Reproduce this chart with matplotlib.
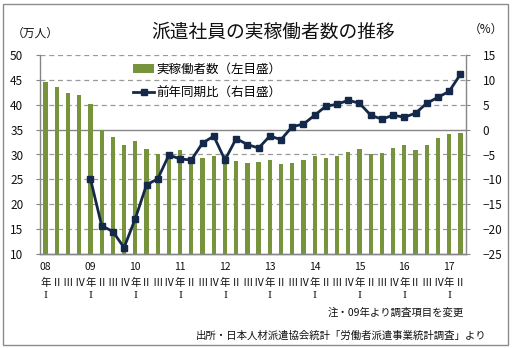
import matplotlib
matplotlib.use("Agg")
import matplotlib.pyplot as plt
from matplotlib.patches import Rectangle
from matplotlib.lines import Line2D
from matplotlib.patches import Patch
import numpy as np

plt.rcParams['font.family'] = ['Noto Sans CJK JP', 'DejaVu Sans']

# ---- data ----
years = ["08", "09", "10", "11", "12", "13", "14", "15", "16", "17"]
quarters = ["Ⅰ", "Ⅱ", "Ⅲ", "Ⅳ"]
workers = [44.5, 43.5, 42.3, 41.9, 40.1, 34.9, 33.5, 31.9, 32.7, 31.1,
           30.0, 29.8, 30.9, 28.9, 29.2, 29.6, 29.9, 28.7, 28.2, 28.5,
           28.9, 28.0, 28.2, 28.9, 29.7, 29.3, 29.7, 30.5, 31.1, 30.1,
           30.3, 31.3, 31.9, 30.9, 31.9, 33.3, 34.1, 34.3]
yoy = [np.nan, np.nan, np.nan, np.nan, -9.9, -19.3, -20.5, -23.7, -17.9, -11.1,
       -9.9, -5.1, -5.9, -6.1, -2.7, -1.3, -6.1, -1.8, -3.0, -3.7,
       -1.3, -2.0, 0.6, 1.1, 2.9, 4.7, 5.1, 5.9, 5.3, 2.9,
       2.1, 2.9, 2.5, 3.3, 5.3, 6.5, 7.7, 11.1]
left_ticks = [10, 15, 20, 25, 30, 35, 40, 45, 50]
right_ticks = [-25, -20, -15, -10, -5, 0, 5, 10, 15]
title = "派遣社員の実稼働者数の推移"
bar_label = "実稼働者数（左目盛）"
line_label = "前年同期比（右目盛）"
note = "注・09年より調査項目を変更"
source = "出所・日本人材派遣協会統計「労働者派遣事業統計調査」より"

W, H = 516, 348
fig = plt.figure(figsize=(W / 100, H / 100), dpi=100)
fig.patch.set_facecolor("white")

# outer frame
fig.patches.append(Rectangle((3 / W, 1 - 345 / H), 505 / W, 341 / H,
                             transform=fig.transFigure, fill=False,
                             edgecolor="#8c8c8c", linewidth=1.0))

L, R, T, B = 40, 466, 55, 254
ax = fig.add_axes([L / W, 1 - B / H, (R - L) / W, (B - T) / H])
ax2 = ax.twinx()

n = len(workers)
x = np.arange(n)
green = "#77933C"
navy = "#14294A"
grey = "#868686"

ax.bar(x, workers, width=0.38, color=green, zorder=2)
ax.set_xlim(-0.5, n - 0.5)
ax.set_ylim(10, 50)
ax.set_yticks(left_ticks)
for v in left_ticks:
    if v == 35:
        ax.axhline(v, color=grey, lw=1.0, zorder=1)
    elif v != 10:
        ax.axhline(v, color="#9a9a9a", lw=0.9, ls=(0, (4, 3)), zorder=1)

ax2.plot(x, yoy, color=navy, lw=2.0, marker="s", markersize=5, zorder=3)
ax2.set_ylim(-25, 15)
ax2.set_yticks(right_ticks)

for a in (ax, ax2):
    a.spines["top"].set_visible(False)
    for s in ("left", "right", "bottom"):
        a.spines[s].set_color(grey)
        a.spines[s].set_linewidth(1.0)
    a.tick_params(axis="y", length=3, color=grey, labelsize=8.5,
                  labelcolor="#111111", pad=9)
    a.tick_params(axis="x", length=0, labelbottom=False)
ax.spines["right"].set_visible(False)
ax2.spines["left"].set_visible(False)

# category labels
for i in range(n):
    yi, q = divmod(i, 4)
    trans = ("data", "axes fraction")
    if q == 0:
        ax.annotate(years[yi], xy=(i, 0), xycoords=trans, xytext=(0, -13 * 0.72),
                    textcoords="offset points", ha="center", va="center", fontsize=7.5,
                    color="#111111")
        ax.annotate("年", xy=(i, 0), xycoords=trans, xytext=(0, -29 * 0.72),
                    textcoords="offset points", ha="center", va="center", fontsize=7.5,
                    color="#111111")
        ax.annotate(quarters[q], xy=(i, 0), xycoords=trans, xytext=(0, -42 * 0.72),
                    textcoords="offset points", ha="center", va="center", fontsize=7,
                    color="#111111", family=["DejaVu Serif"])
    else:
        ax.annotate(quarters[q], xy=(i, 0), xycoords=trans, xytext=(0, -29 * 0.72),
                    textcoords="offset points", ha="center", va="center", fontsize=7.5,
                    color="#111111")

handles = [Patch(facecolor=green, edgecolor="none"),
           Line2D([0], [0], color=navy, lw=2.0, marker="s", markersize=5)]
leg = ax2.legend(handles, [bar_label, line_label], loc="upper left",
                 bbox_to_anchor=((133 - L) / (R - L), 1 - (63 - T) / (B - T)),
                 frameon=False, fontsize=9, handlelength=1.7, handletextpad=0.2,
                 labelspacing=0.85, borderaxespad=0, borderpad=0)

fig.text(273 / W, 1 - 32 / H, title, ha="center", va="center", fontsize=13.5, color="#111111")
fig.text(35 / W, 1 - 33 / H, "（万人）", ha="center", va="center", fontsize=8.5, color="#111111")
fig.text(486 / W, 1 - 29 / H, "（%）", ha="center", va="center", fontsize=8.5, color="#111111")
fig.text(464 / W, 1 - 313 / H, note, ha="right", va="center", fontsize=7.5, color="#111111")
fig.text(486 / W, 1 - 336 / H, source, ha="right", va="center", fontsize=7.5, color="#111111")

fig.savefig("out.png", dpi=100, facecolor="white")
